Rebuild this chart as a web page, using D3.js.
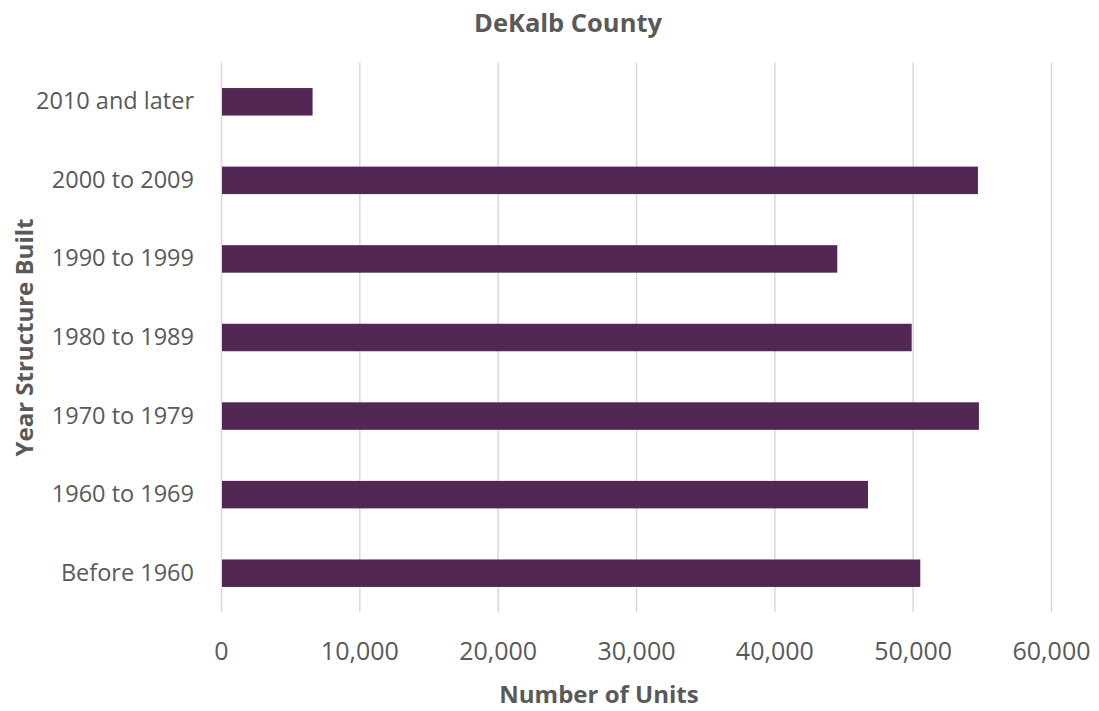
<!DOCTYPE html>
<html><head><meta charset="utf-8">
<script src="https://cdn.jsdelivr.net/npm/d3@7"></script>
<style>body{margin:0;background:#fff;} text{font-family:"Open Sans",sans-serif;}</style>
</head><body>
<svg id="c" width="1099" height="711"></svg>
<script>
const categories = ["2010 and later","2000 to 2009","1990 to 1999","1980 to 1989","1970 to 1979","1960 to 1969","Before 1960"];
const units = [6620, 54720, 44550, 49930, 54790, 46770, 50550];
const xTicks = [0,10000,20000,30000,40000,50000,60000];
const title = "DeKalb County";
const xTitle = "Number of Units";
const yTitle = "Year Structure Built";

const svg = d3.select("#c");
const m = {left:221, right:1051, top:62.5, bottom:612.5};
const x = d3.scaleLinear().domain([0,60000]).range([m.left,m.right]);
const y = d3.scaleBand().domain(categories).range([m.top,m.bottom]).paddingInner(0.65).paddingOuter(0.325);
const txt = "#595959";

// gridlines
svg.append("g").selectAll("line").data(xTicks).join("line")
  .attr("x1",d=>x(d)+0.5).attr("x2",d=>x(d)+0.5)
  .attr("y1",m.top).attr("y2",m.bottom)
  .attr("stroke","#d9d9d9").attr("stroke-width",1.5);

// bars
svg.append("g").selectAll("rect").data(categories).join("rect")
  .attr("x",x(0)+1).attr("y",d=>y(d))
  .attr("width",(d,i)=>x(units[i])-x(0)-1).attr("height",y.bandwidth())
  .attr("fill","#522754");

// x axis
const xa = svg.append("g").attr("transform",`translate(0,${m.bottom})`)
  .call(d3.axisBottom(x).tickValues(xTicks).tickFormat(d3.format(",")).tickSize(0).tickPadding(30));
xa.select(".domain").remove();
xa.selectAll("text").attr("fill",txt).style("font-size","25px").style("font-family","'Open Sans',sans-serif");

// y axis
const ya = svg.append("g").attr("transform",`translate(${m.left},0)`)
  .call(d3.axisLeft(y).tickSize(0).tickPadding(27));
ya.select(".domain").remove();
ya.selectAll("text").attr("fill",txt).style("font-size","23.5px").style("font-family","'Open Sans',sans-serif");

// titles
svg.append("text").attr("x",568).attr("y",32).attr("text-anchor","middle")
  .attr("fill",txt).style("font-size","25.5px").style("font-weight","bold").text(title);
svg.append("text").attr("x",599).attr("y",703).attr("text-anchor","middle")
  .attr("fill",txt).style("font-size","24px").style("font-weight","bold").text(xTitle);
svg.append("text").attr("transform",`translate(33,${(m.top+m.bottom)/2}) rotate(-90)`).attr("text-anchor","middle")
  .attr("fill",txt).style("font-size","24px").style("font-weight","bold").text(yTitle);
</script>
</body></html>
